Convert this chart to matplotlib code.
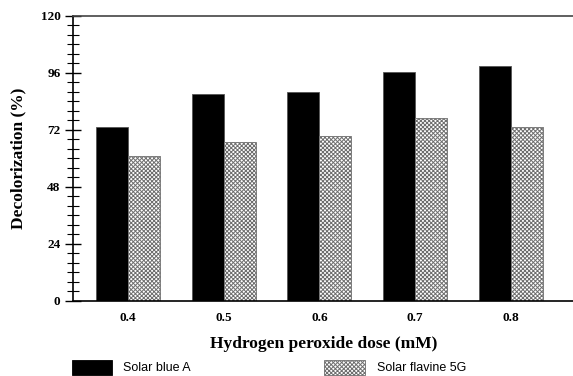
import numpy as np
import matplotlib.pyplot as plt
from matplotlib.patches import Rectangle
from matplotlib.ticker import MultipleLocator

plt.rcParams['hatch.linewidth'] = 0.7

doses = ['0.4', '0.5', '0.6', '0.7', '0.8']
solar_blue = [73.2, 87.0, 88.0, 96.3, 98.9]
solar_flavine = [61.1, 67.0, 69.3, 77.1, 73.2]

serif = 'Liberation Serif'
sans = 'Liberation Sans'

fig = plt.figure(figsize=(5.73, 3.76), dpi=100)
ax = fig.add_axes([73 / 573, 1 - 300.7 / 376, 502 / 573, 284.7 / 376])

x = np.arange(len(doses))
w = 0.334
ax.bar(x - w / 2, solar_blue, w, color='black', edgecolor='#555555', linewidth=0.6)
ax.bar(x + w / 2, solar_flavine, w, color='white', edgecolor='#6e6e6e',
       hatch='xxxxxxxx', linewidth=0.6)

ax.set_xlim(-0.575, 4.67)
ax.set_ylim(0, 120)
ax.set_xticks(x)
ax.set_xticklabels(doses, fontfamily=serif, fontweight='bold', fontsize=9.5)
ax.tick_params(axis='x', length=0, pad=8)

ax.yaxis.set_major_locator(MultipleLocator(24))
ax.yaxis.set_minor_locator(MultipleLocator(4))
ax.tick_params(axis='y', which='major', direction='inout', length=12, width=1, pad=3)
ax.tick_params(axis='y', which='minor', direction='inout', length=9, width=0.8)
for lab in ax.get_yticklabels():
    lab.set_fontfamily(serif)
    lab.set_fontweight('bold')
    lab.set_fontsize(9.5)

for side in ['left', 'bottom', 'top']:
    ax.spines[side].set_linewidth(1.2)
ax.spines['top'].set_color('#444444')
ax.spines['right'].set_visible(False)

ax.set_xlabel('Hydrogen peroxide dose (mM)', fontfamily=serif, fontweight='bold',
              fontsize=12.5, labelpad=9)
ax.set_ylabel('Decolorization (%)', fontfamily=serif, fontweight='bold',
              fontsize=12.5, labelpad=10)

# legend drawn as figure-level boxes below the axis title
fig.patches.append(Rectangle((72 / 573, 1 - 375 / 376), 40 / 573, 15 / 376,
                             transform=fig.transFigure, facecolor='black',
                             edgecolor='black', linewidth=0.6))
fig.patches.append(Rectangle((324 / 573, 1 - 375 / 376), 41 / 573, 15 / 376,
                             transform=fig.transFigure, facecolor='white',
                             edgecolor='#6e6e6e', hatch='xxxxxxxx', linewidth=0.6))
fig.text(123 / 573, 1 - 368 / 376, 'Solar blue A', fontfamily=sans, fontsize=9,
         va='center', ha='left')
fig.text(377 / 573, 1 - 368 / 376, 'Solar flavine 5G', fontfamily=sans, fontsize=9,
         va='center', ha='left')

fig.savefig('out.png', dpi=100)
